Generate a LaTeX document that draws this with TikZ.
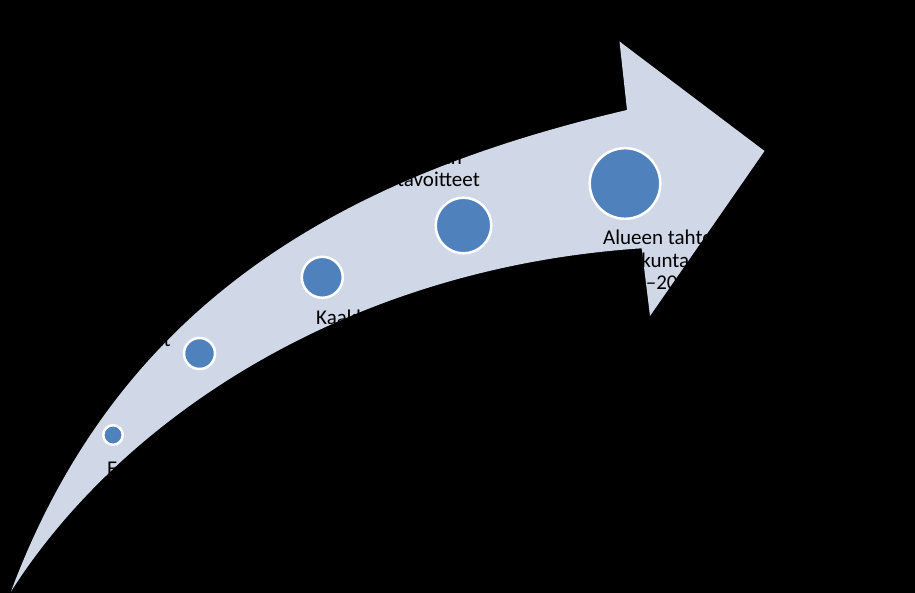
\documentclass[tikz,border=0pt]{standalone}
\usepackage{fontspec}
\setmainfont{Carlito}
\definecolor{arrowfill}{HTML}{D0D8E8}
\definecolor{dotblue}{HTML}{4F81BD}
\newcommand\lbltext[1]{\begin{tabular}[t]{@{}l@{}}#1\end{tabular}}
\begin{document}
\begin{tikzpicture}[x=1pt,y=-1pt,
  dot/.style={circle,fill=dotblue,draw=white,line width=2.5pt,inner sep=0pt},
  lbl/.style={inner sep=0pt,text=black,font=\fontsize{21}{22.5}\selectfont}]
\useasboundingbox (0,0) rectangle (915,593);
\fill[black] (0,0) rectangle (915,593);
% arrow
\coordinate (tail) at (11,591.5);
\coordinate (notchtop) at (627,110);
\coordinate (headtop) at (619.5,41.5);
\coordinate (tip) at (764.5,151);
\coordinate (headbot) at (650,316);
\coordinate (notchbot) at (641.7,248.3);
\fill[arrowfill] (tail) .. controls (120,300) and (345,176) .. (notchtop)
  -- (headtop) -- (tip) -- (headbot) -- (notchbot)
  .. controls (345,268) and (120,420) .. (tail) -- cycle;
% circles
\node[dot,minimum size=19.5pt] (c1) at (113,435) {};
\node[dot,minimum size=31pt] (c2) at (199.5,353.5) {};
\node[dot,minimum size=41pt] (c3) at (322.3,277.3) {};
\node[dot,minimum size=55.6pt] (c4) at (463.5,225.5) {};
\node[dot,minimum size=70.6pt] (c5) at (625,183.5) {};
% labels
\node[lbl,anchor=base west] (t1) at (107,475) {\lbltext{Esiselvitys}};
\node[lbl,anchor=base east] (t2) at (171,347) {\lbltext{Lähtökohdat}};
\node[lbl,anchor=base west] (t3) at (316,325) {\lbltext{Kaakkois-Suomen}};
\node[lbl,anchor=base west] (t4) at (397,164.5) {\lbltext{Kunnan\\tavoitteet}};
\node[lbl,anchor=base west] (t5) at (603,245) {\lbltext{Alueen tahtotila\\Maakuntaohjelma\\2015–2025}};
\end{tikzpicture}
\end{document}
